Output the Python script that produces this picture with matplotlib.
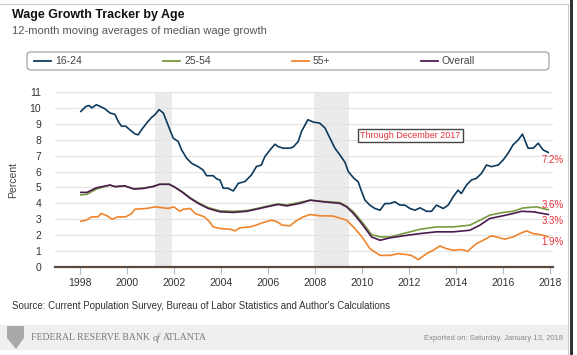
import matplotlib
matplotlib.use('Agg')
import matplotlib.pyplot as plt
from matplotlib.patches import FancyBboxPatch, Rectangle, Polygon

plt.rcParams['font.family'] = ['Liberation Sans', 'DejaVu Sans']

# data (year, percent)
yr_1624 = [1998.04, 1998.26, 1998.4, 1998.5, 1998.7, 1998.85, 1999.06, 1999.28, 1999.49, 1999.63,
           1999.77, 1999.95, 2000.13, 2000.34, 2000.48, 2000.62, 2000.84, 2001.05, 2001.19, 2001.37,
           2001.55, 2001.69, 2001.83, 2001.97, 2002.18, 2002.33, 2002.54, 2002.75, 2003.03, 2003.24,
           2003.39, 2003.67, 2003.82, 2003.96, 2004.1, 2004.3, 2004.53, 2004.74, 2005.02, 2005.3,
           2005.51, 2005.72, 2005.87, 2006.09, 2006.3, 2006.43, 2006.65, 2006.94, 2007.08, 2007.29,
           2007.43, 2007.7, 2007.93, 2008.21, 2008.43, 2008.64, 2008.85, 2009.06, 2009.28, 2009.42,
           2009.66, 2009.84, 2009.99, 2010.13, 2010.34, 2010.55, 2010.77, 2010.98, 2011.19, 2011.4,
           2011.62, 2011.83, 2012.04, 2012.26, 2012.47, 2012.75, 2012.96, 2013.17, 2013.46, 2013.67,
           2013.88, 2014.09, 2014.23, 2014.45, 2014.66, 2014.87, 2015.09, 2015.3, 2015.51, 2015.8,
           2016.01, 2016.22, 2016.43, 2016.65, 2016.83, 2017.07, 2017.29, 2017.5, 2017.71, 2017.93]
val_1624 = [9.78, 10.1, 10.15, 10.0, 10.2, 10.1, 9.95, 9.68, 9.6, 9.15,
            8.85, 8.85, 8.62, 8.37, 8.31, 8.62, 9.05, 9.4, 9.57, 9.89,
            9.68, 9.15, 8.62, 8.1, 7.89, 7.36, 6.84, 6.52, 6.31, 6.1,
            5.74, 5.74, 5.54, 5.47, 4.95, 4.95, 4.78, 5.26, 5.37, 5.79,
            6.31, 6.41, 6.94, 7.36, 7.72, 7.57, 7.47, 7.47, 7.55, 7.89,
            8.52, 9.26, 9.11, 9.04, 8.73, 8.1, 7.47, 7.05, 6.58, 6.0,
            5.57, 5.36, 4.73, 4.2, 3.89, 3.68, 3.57, 3.99, 3.99, 4.1,
            3.89, 3.89, 3.68, 3.57, 3.72, 3.5, 3.5, 3.89, 3.68, 3.89,
            4.41, 4.83, 4.62, 5.15, 5.47, 5.57, 5.89, 6.41, 6.31, 6.41,
            6.73, 7.15, 7.68, 7.99, 8.35, 7.47, 7.47, 7.78, 7.36, 7.2]

yr_2554 = [1998.04, 1998.3, 1998.7, 1999.28, 1999.5, 1999.9, 2000.3, 2000.7, 2001.1, 2001.4,
           2001.8, 2002.0, 2002.33, 2002.7, 2003.03, 2003.46, 2003.96, 2004.53, 2005.1, 2005.51,
           2005.95, 2006.43, 2006.8, 2007.37, 2007.8, 2008.35, 2009.06, 2009.35, 2009.64, 2010.0,
           2010.41, 2010.77, 2011.19, 2011.76, 2012.47, 2013.17, 2013.88, 2014.59, 2015.02, 2015.44,
           2016.0, 2016.43, 2016.86, 2017.43, 2017.93]
val_2554 = [4.53, 4.57, 4.9, 5.15, 5.05, 5.1, 4.92, 4.96, 5.07, 5.2,
            5.2, 5.05, 4.76, 4.35, 4.05, 3.73, 3.53, 3.5, 3.55, 3.67,
            3.82, 3.97, 3.9, 4.07, 4.2, 4.12, 4.05, 3.82, 3.47, 2.84,
            2.04, 1.89, 1.89, 2.1, 2.37, 2.52, 2.52, 2.63, 2.94, 3.26,
            3.43, 3.5, 3.71, 3.78, 3.6]

yr_55 = [1998.04, 1998.26, 1998.5, 1998.77, 1998.9, 1999.1, 1999.38, 1999.6, 1999.95, 2000.2,
         2000.34, 2000.84, 2001.2, 2001.55, 2001.75, 2002.0, 2002.25, 2002.4, 2002.7, 2002.9,
         2003.1, 2003.3, 2003.52, 2003.67, 2003.96, 2004.4, 2004.6, 2004.8, 2005.24, 2005.5,
         2005.8, 2006.16, 2006.4, 2006.6, 2006.94, 2007.2, 2007.5, 2007.8, 2008.2, 2008.78,
         2009.35, 2009.7, 2010.06, 2010.34, 2010.77, 2011.19, 2011.55, 2011.9, 2012.1, 2012.4,
         2012.75, 2013.03, 2013.32, 2013.6, 2013.88, 2014.23, 2014.5, 2014.87, 2015.16, 2015.51,
         2015.73, 2016.08, 2016.43, 2016.72, 2017.0, 2017.29, 2017.57, 2017.93]
val_55 = [2.88, 2.94, 3.15, 3.15, 3.36, 3.26, 3.0, 3.15, 3.15, 3.36,
          3.63, 3.68, 3.78, 3.72, 3.68, 3.78, 3.5, 3.63, 3.68, 3.36,
          3.26, 3.15, 2.84, 2.52, 2.42, 2.37, 2.27, 2.46, 2.52, 2.63,
          2.8, 2.94, 2.84, 2.63, 2.59, 2.9, 3.15, 3.3, 3.22, 3.2,
          2.94, 2.42, 1.78, 1.15, 0.73, 0.73, 0.84, 0.78, 0.73, 0.46,
          0.84, 1.05, 1.32, 1.15, 1.05, 1.1, 0.99, 1.47, 1.68, 1.96,
          1.89, 1.75, 1.89, 2.1, 2.27, 2.1, 2.04, 1.9]

yr_all = [1998.04, 1998.3, 1998.7, 1999.28, 1999.5, 1999.9, 2000.3, 2000.7, 2001.1, 2001.4,
          2001.8, 2002.0, 2002.33, 2002.7, 2003.03, 2003.46, 2003.96, 2004.53, 2005.1, 2005.51,
          2005.95, 2006.43, 2006.8, 2007.37, 2007.8, 2008.35, 2009.06, 2009.35, 2009.64, 2009.99,
          2010.41, 2010.77, 2011.19, 2011.76, 2012.47, 2013.17, 2013.88, 2014.59, 2015.02, 2015.44,
          2016.0, 2016.43, 2016.79, 2017.29, 2017.93]
val_all = [4.69, 4.69, 4.98, 5.15, 5.05, 5.1, 4.9, 4.94, 5.05, 5.2,
           5.2, 5.05, 4.73, 4.31, 4.0, 3.68, 3.47, 3.43, 3.5, 3.63,
           3.78, 3.93, 3.84, 4.0, 4.2, 4.1, 4.0, 3.78, 3.36, 2.73,
           1.89, 1.68, 1.83, 1.96, 2.1, 2.21, 2.21, 2.31, 2.63, 3.05,
           3.22, 3.36, 3.5, 3.47, 3.3]

recessions = [(2001.21, 2001.9), (2007.96, 2009.46)]
end_labels = ['7.2%', '3.6%', '3.3%', '1.9%']
end_label_y = [6.7, 3.9, 2.87, 1.6]
xticks = list(range(1998, 2019, 2))

c1624 = '#0d3a5c'
c2554 = '#7a9a40'
c55 = '#f0842c'
call = '#4b1c4f'

fig = plt.figure(figsize=(5.77, 3.55), dpi=100)
ax = fig.add_axes([0.0953, 0.2479, 0.8631, 0.4929])

for a, b in recessions:
    ax.axvspan(a, b, color='#ebebeb', lw=0, zorder=0)

for v in range(0, 12):
    ax.axhline(v, color='#e3e3e3', lw=0.8, zorder=0.5)

ax.plot(yr_55, val_55, color=c55, lw=1.2, zorder=3)
ax.plot(yr_2554, val_2554, color=c2554, lw=1.2, zorder=3)
ax.plot(yr_all, val_all, color=call, lw=1.2, zorder=4)
ax.plot(yr_1624, val_1624, color=c1624, lw=1.2, zorder=4)

ax.set_xlim(1996.94, 2018.13)
ax.set_ylim(0, 11)
ax.set_yticks(range(0, 12))
ax.set_xticks(xticks)
for s in ['top', 'right', 'left']:
    ax.spines[s].set_visible(False)
ax.spines['bottom'].set_color('#5a4a40')
ax.spines['bottom'].set_linewidth(1.6)
ax.tick_params(axis='y', length=0, labelsize=7.5, labelcolor='#333333', pad=10)
ax.tick_params(axis='x', length=5, color='#a8c0d8', labelsize=7.5, labelcolor='#333333', pad=3)
ax.set_ylabel('Percent', fontsize=7.5, color='#444444', labelpad=8)

for lab, y in zip(end_labels, end_label_y):
    ax.text(2017.65, y, lab, color='#e0303a', fontsize=7, ha='left', va='center', zorder=5)

ax.text(2009.92, 8.28, 'Through December 2017', color='#e0303a', fontsize=6.5,
        ha='left', va='center', zorder=5,
        bbox=dict(boxstyle='square,pad=0.25', fc='white', ec='#444444', lw=1.0))

# titles
fig.text(0.021, 0.958, 'Wage Growth Tracker by Age', fontsize=9, fontweight='bold',
         color='#111111', ha='left', va='center')
fig.text(0.021, 0.913, '12-month moving averages of median wage growth', fontsize=8,
         color='#555555', ha='left', va='center')

# legend box
fig.patches.append(FancyBboxPatch((27 / 577, 1 - 70 / 355), 522 / 577, 18 / 355,
                                  boxstyle='round,pad=0,rounding_size=0.008',
                                  transform=fig.transFigure, fc='white', ec='#999999', lw=0.8))
leg_names = ['16-24', '25-54', '55+', 'Overall']
leg_cols = [c1624, c2554, c55, call]
for i, (n, c) in enumerate(zip(leg_names, leg_cols)):
    x0 = (34 + i * 129) / 577
    fig.lines.append(plt.Line2D([x0, x0 + 17 / 577], [1 - 61 / 355] * 2, color=c, lw=1.3,
                                transform=fig.transFigure))
    fig.text(x0 + 21 / 577, 1 - 61 / 355, n, fontsize=7.5, color='#444444', ha='left', va='center')

fig.text(0.021, 1 - 306 / 355,
         "Source: Current Population Survey, Bureau of Labor Statistics and Author's Calculations",
         fontsize=7, color='#333333', ha='left', va='center')

# footer band
fig.patches.append(Rectangle((0, 1 - 350 / 355), 569 / 577, 25 / 355, transform=fig.transFigure,
                             fc='#efefef', ec='none', zorder=0))
fig.patches.append(Polygon([(7 / 577, 1 - 326 / 355), (24 / 577, 1 - 326 / 355),
                            (24 / 577, 1 - 338 / 355), (16 / 577, 1 - 349 / 355),
                            (7 / 577, 1 - 338 / 355)], closed=True, transform=fig.transFigure,
                           fc='#a8a8a8', ec='none'))
fy = 1 - 338 / 355
renderer = fig.canvas.get_renderer()
xpos = 31
for part, st in [('FEDERAL RESERVE BANK', 'normal'), ('of', 'italic'), ('ATLANTA', 'normal')]:
    t = fig.text(xpos / 577, fy, part, fontsize=7.0, family='Liberation Serif', style=st,
                 color='#7a7a7a', ha='left', va='center')
    xpos = t.get_window_extent(renderer).x1 + 2.5
fig.text(563 / 577, fy, 'Exported on: Saturday, January 13, 2018', fontsize=5.5,
         color='#888888', ha='right', va='center')

# outer borders
fig.lines.append(plt.Line2D([0, 568 / 577], [1 - 4 / 355] * 2, color='#cccccc', lw=0.8,
                            transform=fig.transFigure))
fig.lines.append(plt.Line2D([568 / 577] * 2, [0, 1 - 4 / 355], color='#cccccc', lw=0.8,
                            transform=fig.transFigure))
fig.patches.append(Rectangle((570 / 577, 0), 3 / 577, 1, transform=fig.transFigure,
                             fc='#333333', ec='none'))

fig.savefig('out.png', dpi=100)
